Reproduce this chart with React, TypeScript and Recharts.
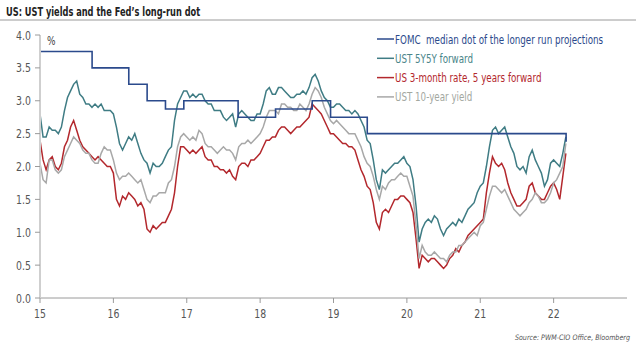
import { LineChart, Line, XAxis, YAxis } from 'recharts';

// semi-monthly observations, first one at start of 2015
const startYear = 2015;
const perYear = 24;

const fwd5y5y = [
  2.8, 2.45, 2.45, 2.6, 2.55, 2.55, 2.5, 2.6, 2.85, 3.05, 3.15, 3.25, 3.3, 3.1, 3.05, 2.95, 2.95, 2.9, 2.95, 2.9, 2.95, 2.85, 2.85, 2.85,
  2.8, 2.6, 2.35, 2.25, 2.35, 2.45, 2.4, 2.5, 2.35, 2.2, 2.1, 2.05, 1.9, 2.05, 2.0, 2.0, 2.05, 2.15, 2.25, 2.3, 2.7, 2.95, 3.05, 3.15,
  3.15, 3.05, 3.1, 3.05, 3.1, 3.1, 3.0, 2.95, 2.95, 2.85, 2.85, 2.85, 2.75, 2.7, 2.75, 2.8, 2.6, 2.8, 2.85, 2.8, 2.75, 2.7, 2.7, 2.8,
  2.8, 2.95, 3.15, 3.2, 3.1, 3.1, 3.2, 3.2, 3.15, 3.1, 3.05, 3.05, 3.1, 3.1, 3.15, 3.1, 3.2, 3.35, 3.4, 3.3, 3.15, 3.05, 3.0, 2.9,
  2.9, 2.95, 2.95, 2.9, 2.85, 2.85, 2.8, 2.85, 2.8, 2.7, 2.6, 2.4, 2.35, 2.1, 1.8, 1.65, 1.95, 1.9, 1.95, 2.0, 2.05, 2.05, 2.1, 2.15,
  2.05, 2.0, 1.8, 1.4, 0.85, 1.05, 1.15, 1.2, 1.15, 1.25, 1.2, 1.05, 0.95, 1.05, 1.1, 1.15, 1.1, 1.2, 1.15, 1.25, 1.35, 1.4, 1.45, 1.6,
  1.7, 1.75, 2.0, 2.3, 2.55, 2.6, 2.5, 2.55, 2.6, 2.45, 2.3, 2.2, 2.0, 1.95, 2.0, 1.9, 2.15, 2.25, 2.1, 2.0, 1.9, 1.7, 1.8, 2.05,
  2.1, 2.05, 2.0, 2.2, 2.45,
];

const rate3m5y = [
  2.4, 2.1, 1.95, 2.1, 2.15, 2.0, 1.95, 2.05, 2.3, 2.4, 2.6, 2.7, 2.55, 2.4, 2.3, 2.25, 2.2, 2.15, 2.1, 2.15, 2.1, 2.05, 2.0, 2.0,
  1.9, 1.5, 1.4, 1.55, 1.5, 1.6, 1.55, 1.5, 1.4, 1.45, 1.35, 1.05, 1.0, 1.1, 1.05, 1.1, 1.15, 1.15, 1.25, 1.35, 1.6, 2.0, 2.3, 2.3,
  2.25, 2.2, 2.25, 2.2, 2.25, 2.3, 2.15, 2.1, 2.1, 2.0, 2.0, 1.95, 1.95, 1.9, 1.95, 1.85, 1.8, 2.0, 2.05, 2.05, 2.0, 2.1, 2.1, 2.15,
  2.2, 2.3, 2.4, 2.4, 2.45, 2.45, 2.55, 2.6, 2.6, 2.55, 2.5, 2.55, 2.6, 2.6, 2.65, 2.7, 2.75, 2.95, 2.9, 2.85, 2.8, 2.7, 2.6, 2.5,
  2.5, 2.45, 2.4, 2.35, 2.35, 2.3, 2.3, 2.25, 2.1, 1.95, 1.85, 1.7, 1.65, 1.45, 1.15, 1.05, 1.3, 1.35, 1.3, 1.4, 1.5, 1.5, 1.55, 1.55,
  1.5, 1.45, 1.3, 0.9, 0.45, 0.65, 0.6, 0.55, 0.6, 0.6, 0.55, 0.5, 0.45, 0.5, 0.6, 0.65, 0.75, 0.7, 0.8, 0.85, 0.95, 1.0, 1.05, 1.1,
  1.15, 1.2, 1.6, 1.9, 2.15, 2.05, 2.0, 2.05, 1.95, 1.75, 1.6, 1.5, 1.4, 1.4, 1.45, 1.5, 1.7, 1.75, 1.6, 1.55, 1.5, 1.5, 1.6, 1.7,
  1.75, 1.65, 1.5, 1.85, 2.2,
];

const ust10y = [
  2.05, 1.8, 1.75, 2.1, 2.1, 1.95, 1.9, 1.95, 2.15, 2.25, 2.35, 2.45, 2.4, 2.35, 2.25, 2.2, 2.2, 2.1, 2.05, 2.05, 2.2, 2.3, 2.25, 2.25,
  2.1, 1.9, 1.8, 1.85, 1.85, 1.9, 1.85, 1.8, 1.75, 1.8, 1.65, 1.5, 1.45, 1.55, 1.55, 1.6, 1.6, 1.6, 1.75, 1.8, 2.0, 2.3, 2.45, 2.5,
  2.45, 2.4, 2.45, 2.4, 2.55, 2.5, 2.35, 2.3, 2.3, 2.25, 2.2, 2.25, 2.3, 2.25, 2.25, 2.2, 2.1, 2.3, 2.35, 2.35, 2.4, 2.35, 2.4, 2.45,
  2.5, 2.6, 2.75, 2.85, 2.85, 2.85, 2.8, 2.95, 2.95, 2.9, 2.9, 2.85, 2.85, 2.95, 2.9, 2.85, 2.95, 3.1, 3.2, 3.15, 3.05, 2.9, 2.8, 2.7,
  2.65, 2.7, 2.65, 2.6, 2.55, 2.5, 2.5, 2.5, 2.4, 2.3, 2.15, 2.05, 2.0, 1.85, 1.65, 1.5, 1.7, 1.65, 1.75, 1.8, 1.8, 1.85, 1.9, 1.85,
  1.85, 1.7, 1.55, 1.1, 0.6, 0.8, 0.7, 0.65, 0.65, 0.7, 0.65, 0.6, 0.6, 0.55, 0.65, 0.7, 0.7, 0.8, 0.8, 0.85, 0.9, 0.95, 1.0, 0.95,
  1.1, 1.15, 1.35, 1.55, 1.7, 1.7, 1.65, 1.6, 1.65, 1.55, 1.45, 1.35, 1.3, 1.25, 1.3, 1.35, 1.45, 1.5, 1.6, 1.55, 1.45, 1.45, 1.5, 1.6,
  1.75, 1.8, 1.9, 2.0, 2.35,
];

// FOMC long-run dot, changes at meeting dates
const fomcDates = [2015, 2015.71, 2016.21, 2016.46, 2016.71, 2016.96, 2017.7, 2018.21, 2018.71, 2018.96, 2019.46, 2022.17];
const fomcDots = [3.75, 3.5, 3.25, 3.0, 2.875, 3.0, 2.75, 2.875, 3.0, 2.75, 2.5, 2.375];

const yearTicks = [2015, 2016, 2017, 2018, 2019, 2020, 2021, 2022];
const pctTicks = [0, 0.5, 1, 1.5, 2, 2.5, 3, 3.5, 4];

const marketData = fwd5y5y.map((v, i) => ({
  t: startYear + i / perYear,
  fwd: v,
  r3m: rate3m5y[i],
  ust: ust10y[i],
}));
const fomcData = fomcDates.map((t, i) => ({ t, dot: fomcDots[i] }));

// no narrow font installed, so squeeze DejaVu horizontally
const FONT = '"DejaVu Sans", sans-serif';
const SQUEEZE = 0.75;

const legendItems = [
  { label: 'FOMC  median dot of the longer run projections', color: '#2b4a8c', text: '#2b4a8c' },
  { label: 'UST 5Y5Y forward', color: '#3f7c84', text: '#4a8589' },
  { label: 'US 3-month rate, 5 years forward', color: '#b3282d', text: '#b3282d' },
  { label: 'UST 10-year yield', color: '#a8a8a8', text: '#a3a89f' },
];

const XTick = ({ x, y, payload }: any) => (
  <text
    transform={`translate(${x}, ${y + 13}) scale(${SQUEEZE}, 1)`}
    textAnchor="middle"
    fontFamily={FONT}
    fontSize={12.5}
    fill="#555"
  >
    {String(payload.value - 2000)}
  </text>
);

const YTick = ({ x, y, payload }: any) => (
  <text
    transform={`translate(${x - 2}, ${y + 4.5}) scale(${SQUEEZE}, 1)`}
    textAnchor="end"
    fontFamily={FONT}
    fontSize={12.5}
    fill="#555"
  >
    {Number(payload.value).toFixed(1)}
  </text>
);

export default function App() {
  return (
    <div style={{ position: 'absolute', left: 0, top: 0, width: 636, height: 352, background: '#fff', overflow: 'hidden' }}>
      <div style={{ position: 'absolute', left: 0, top: 0 }}>
        <LineChart width={636} height={352} margin={{ top: 35, right: 9, left: 0, bottom: 24 }}>
          <XAxis
            dataKey="t"
            type="number"
            domain={[2015, 2023]}
            ticks={yearTicks}
            allowDataOverflow
            height={30}
            stroke="#9a9a9a"
            tickSize={5}
            tick={<XTick />}
          />
          <YAxis
            type="number"
            domain={[0, 4]}
            ticks={pctTicks}
            width={40}
            axisLine={{ stroke: '#cfcfcf', strokeWidth: 2 }}
            tickLine={{ stroke: '#9a9a9a' }}
            tickSize={5}
            tick={<YTick />}
          />
          <Line data={marketData} dataKey="fwd" type="linear" stroke="#3f7c84" strokeWidth={1.5} dot={false} isAnimationActive={false} />
          <Line data={marketData} dataKey="r3m" type="linear" stroke="#b3282d" strokeWidth={1.5} dot={false} isAnimationActive={false} />
          <Line data={marketData} dataKey="ust" type="linear" stroke="#a8a8a8" strokeWidth={1.5} dot={false} isAnimationActive={false} />
          <Line data={fomcData} dataKey="dot" type="stepAfter" stroke="#2b4a8c" strokeWidth={1.6} dot={false} isAnimationActive={false} />
        </LineChart>
      </div>
      <svg width={636} height={352} style={{ position: 'absolute', left: 0, top: 0, pointerEvents: 'none' }}>
        <text transform="translate(6, 16) scale(0.66, 1)" fontFamily={FONT} fontWeight="bold" fontSize={12.5} fill="#222">
          US: UST yields and the Fed’s long-run dot
        </text>
        <line x1={0} x2={636} y1={20} y2={20} stroke="#9a9a9a" strokeWidth={1} />
        <text transform={`translate(47, 45) scale(${SQUEEZE}, 1)`} fontFamily={FONT} fontSize={12} fill="#444">%</text>
        {legendItems.map((it, i) => (
          <g key={it.label} transform={`translate(377, ${39 + i * 19.3})`}>
            <line x1={0} x2={17} y1={0} y2={0} stroke={it.color} strokeWidth={1.5} />
            <text
              transform="translate(18, 4.5) scale(0.7, 1)"
              fontFamily={FONT}
              fontSize={12.5}
              fill={it.text}
              style={{ whiteSpace: 'pre' }}
            >
              {it.label}
            </text>
          </g>
        ))}
        <text transform="translate(630, 340) scale(0.85, 1)" textAnchor="end" fontFamily={FONT} fontStyle="italic" fontSize={7.5} fill="#555">
          Source: PWM-CIO Office, Bloomberg
        </text>
      </svg>
    </div>
  );
}
